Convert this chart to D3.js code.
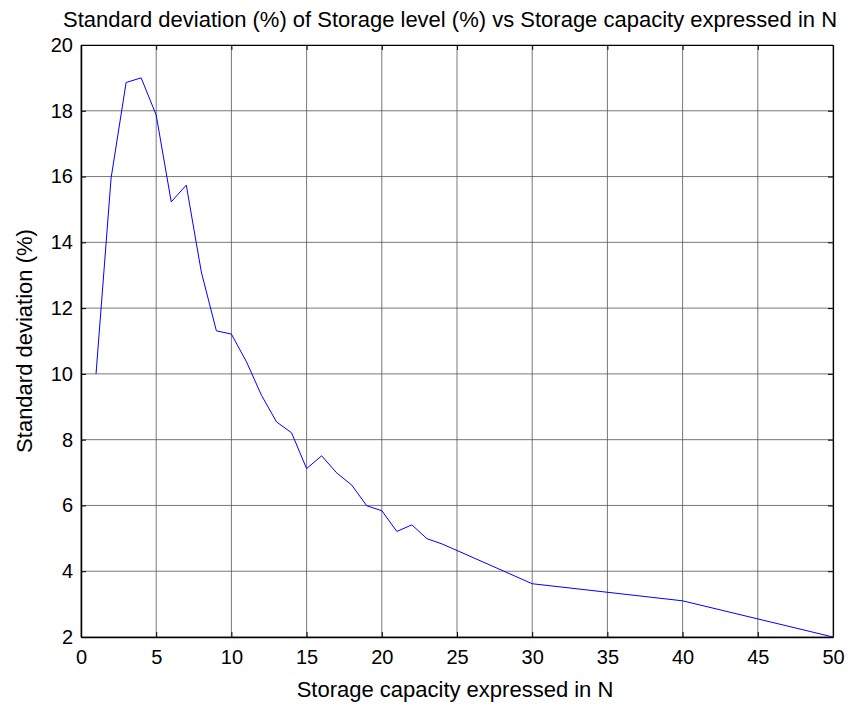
<!DOCTYPE html>
<html>
<head>
<meta charset="utf-8">
<script src="https://cdn.jsdelivr.net/npm/d3@7"></script>
<style>
  body { margin: 0; background: #fff; }
  text { font-family: "Liberation Sans", Arial, sans-serif; fill: #000; }
</style>
</head>
<body>
<div id="chart"></div>
<script>
// storage capacity (N) vs standard deviation of storage level (%)
var capacity = [1, 2, 3, 4, 5, 6, 7, 8, 9, 10, 11, 12, 13, 14, 15, 16, 17, 18, 19, 20,
                21, 22, 23, 24, 25, 30, 40, 50];
var stdDev = [10.0, 15.95, 18.86, 19.0, 17.87, 15.23, 15.74, 13.1, 11.31, 11.21,
              10.37, 9.35, 8.54, 8.21, 7.12, 7.51, 6.99, 6.62, 5.99, 5.84,
              5.21, 5.41, 4.99, 4.83, 4.63, 3.62, 3.10, 2.0];
var xTicks = [0, 5, 10, 15, 20, 25, 30, 35, 40, 45, 50];
var yTicks = [2, 4, 6, 8, 10, 12, 14, 16, 18, 20];

var titleText = "Standard deviation (%) of Storage level (%) vs Storage capacity expressed in N";
var xLabel = "Storage capacity expressed in N";
var yLabel = "Standard deviation (%)";

var width = 855, height = 706;
var margin = {top: 45, right: 22, bottom: 69, left: 81};

var svg = d3.select("#chart")
    .append("svg")
    .attr("width", width)
    .attr("height", height);

var x = d3.scaleLinear().domain([0, 50]).range([margin.left, width - margin.right]);
var y = d3.scaleLinear().domain([2, 20]).range([height - margin.bottom, margin.top]);

// grid
svg.append("g")
    .selectAll("line.vx")
    .data(xTicks)
    .enter()
    .append("line")
    .attr("x1", d => x(d)).attr("x2", d => x(d))
    .attr("y1", y(2)).attr("y2", y(20))
    .attr("stroke", "#555")
    .attr("stroke-width", 0.8);

svg.append("g")
    .selectAll("line.hy")
    .data(yTicks)
    .enter()
    .append("line")
    .attr("x1", x(0)).attr("x2", x(50))
    .attr("y1", d => y(d)).attr("y2", d => y(d))
    .attr("stroke", "#555")
    .attr("stroke-width", 0.8);

// axes with inward ticks on all four sides
var tl = 5;
svg.append("g")
    .attr("transform", "translate(0," + y(2) + ")")
    .call(d3.axisBottom(x).tickValues(xTicks).tickSizeInner(-tl).tickSizeOuter(0).tickPadding(13))
    .call(g => g.select(".domain").attr("stroke-width", 1.5));

svg.append("g")
    .attr("transform", "translate(0," + y(20) + ")")
    .call(d3.axisTop(x).tickValues(xTicks).tickSizeInner(-tl).tickSizeOuter(0).tickFormat(""))
    .call(g => g.select(".domain").attr("stroke-width", 1.2));

svg.append("g")
    .attr("transform", "translate(" + x(0) + ",0)")
    .call(d3.axisLeft(y).tickValues(yTicks).tickSizeInner(-tl).tickSizeOuter(0).tickPadding(8))
    .call(g => g.select(".domain").attr("stroke-width", 1.5));

svg.append("g")
    .attr("transform", "translate(" + x(50) + ",0)")
    .call(d3.axisRight(y).tickValues(yTicks).tickSizeInner(-tl).tickSizeOuter(0).tickFormat(""))
    .call(g => g.select(".domain").attr("stroke-width", 1.2));

svg.selectAll(".tick text")
    .style("font-size", "20px")
    .style("font-family", "'Liberation Sans', Arial, sans-serif");

// data line
var line = d3.line()
    .x((d, i) => x(capacity[i]))
    .y(d => y(d));

svg.append("path")
    .datum(stdDev)
    .attr("d", line)
    .attr("fill", "none")
    .attr("stroke", "#0000ff")
    .attr("stroke-width", 1);

// labels
svg.append("text")
    .attr("x", 450)
    .attr("y", 27)
    .attr("text-anchor", "middle")
    .style("font-size", "22px")
    .text(titleText);

svg.append("text")
    .attr("x", 455)
    .attr("y", 697)
    .attr("text-anchor", "middle")
    .style("font-size", "22px")
    .text(xLabel);

svg.append("text")
    .attr("transform", "translate(32," + ((y(2) + y(20)) / 2) + ") rotate(-90)")
    .attr("text-anchor", "middle")
    .style("font-size", "22px")
    .text(yLabel);
</script>
</body>
</html>
